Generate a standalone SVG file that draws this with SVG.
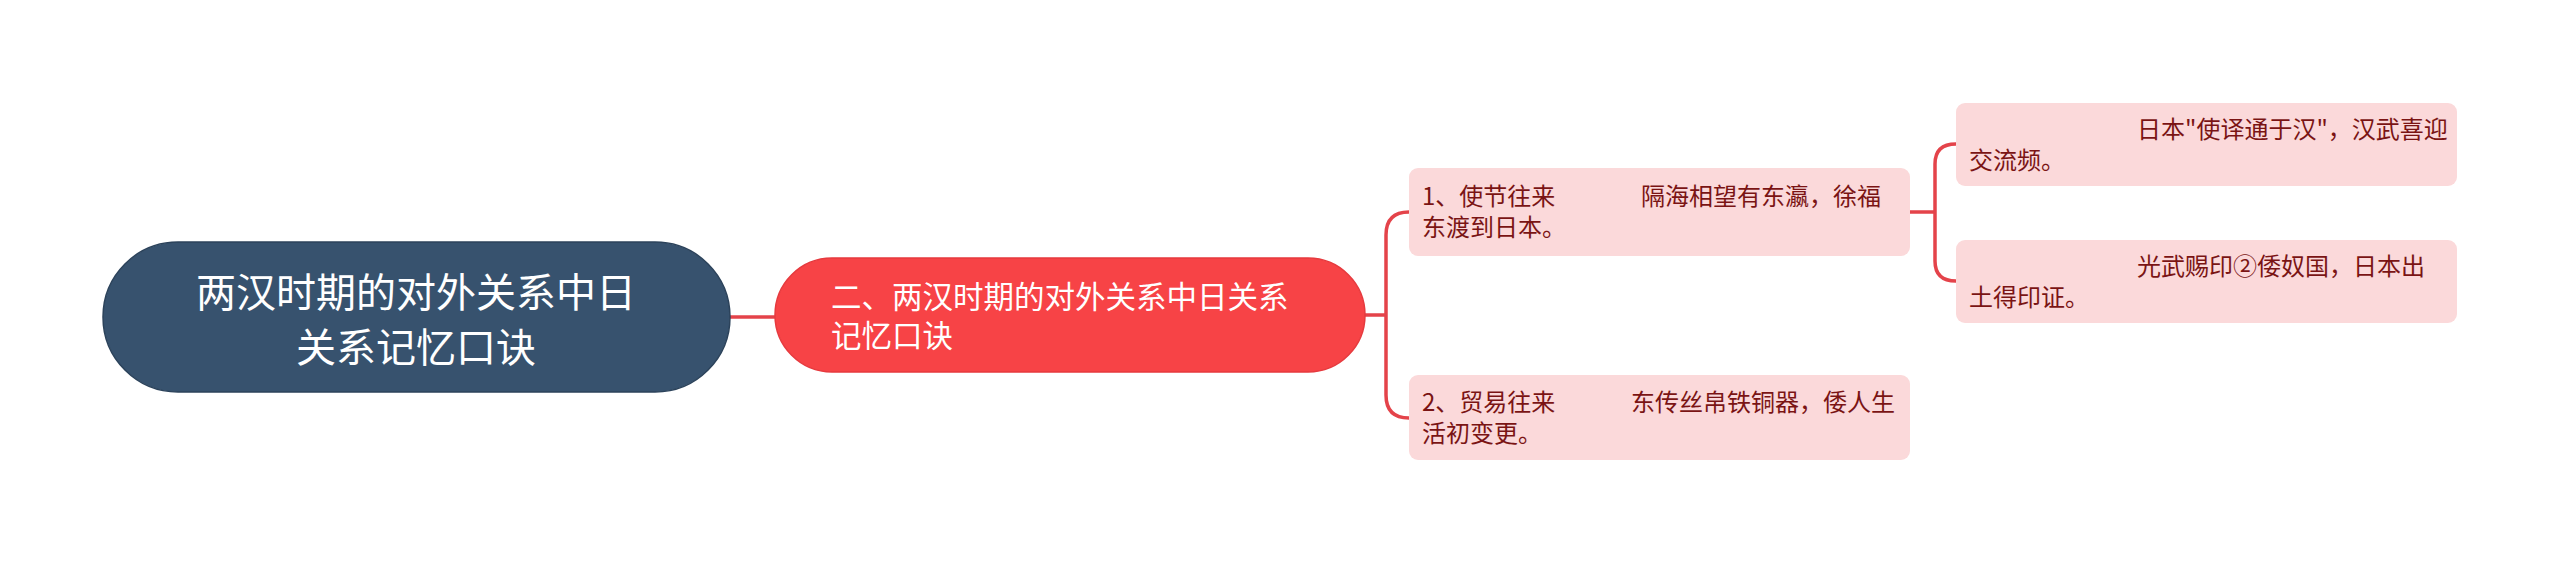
<svg xmlns="http://www.w3.org/2000/svg" width="2560" height="563" viewBox="0 0 2560 563">
<style>
text{font-family:"Noto Sans CJK SC","Noto Sans",sans-serif;}
.root{fill:#37526e;stroke:#2c435b;stroke-width:1.5;}
.rootT{fill:#ffffff;font-size:40px;text-anchor:middle;}
.main{fill:#f74346;stroke:#e63a3e;stroke-width:1.5;}
.mainT{fill:#ffffff;font-size:30.5px;}
.leaf{fill:#fbd9da;}
.leafT{fill:#7a1414;font-size:24px;}
.edge{fill:none;stroke:#e4434a;stroke-width:3.5;}
</style>
<rect width="2560" height="563" fill="#ffffff"/>
<g id="connectors">
<path class="edge" d="M730 317 H775"/>
<path class="edge" d="M1365 315 H1386 M1409 212 Q1386 212 1386 235 V395 Q1386 418 1409 418"/>
<path class="edge" d="M1910 212 H1935 M1956 144 Q1935 144 1935 164 V261 Q1935 281 1956 281"/>
</g>
<g id="root">
<rect class="root" x="103" y="242" width="627" height="150" rx="75"/>
<text class="rootT" x="416" y="307">两汉时期的对外关系中日</text>
<text class="rootT" x="416" y="362">关系记忆口诀</text>
</g>
<g id="main">
<rect class="main" x="775" y="258" width="590" height="114" rx="57"/>
<text class="mainT" x="831" y="308">二、两汉时期的对外关系中日关系</text>
<text class="mainT" x="831" y="347">记忆口诀</text>
</g>
<g id="leaf1">
<rect class="leaf" x="1409" y="168" width="501" height="88" rx="9"/>
<text class="leafT" y="205"><tspan x="1422">1、使节往来</tspan><tspan x="1641">隔海相望有东瀛，徐福</tspan></text>
<text class="leafT" x="1422" y="236">东渡到日本。</text>
</g>
<g id="leaf2">
<rect class="leaf" x="1409" y="375" width="501" height="85" rx="9"/>
<text class="leafT" y="411"><tspan x="1422">2、贸易往来</tspan><tspan x="1631">东传丝帛铁铜器，倭人生</tspan></text>
<text class="leafT" x="1422" y="442">活初变更。</text>
</g>
<g id="leaf3">
<rect class="leaf" x="1956" y="103" width="501" height="83" rx="9"/>
<text class="leafT" x="2137" y="138">日本"使译通于汉"，汉武喜迎</text>
<text class="leafT" x="1969" y="169">交流频。</text>
</g>
<g id="leaf4">
<rect class="leaf" x="1956" y="240" width="501" height="83" rx="9"/>
<text class="leafT" x="2137" y="275">光武赐印②倭奴国，日本出</text>
<text class="leafT" x="1969" y="306">土得印证。</text>
</g>
</svg>
